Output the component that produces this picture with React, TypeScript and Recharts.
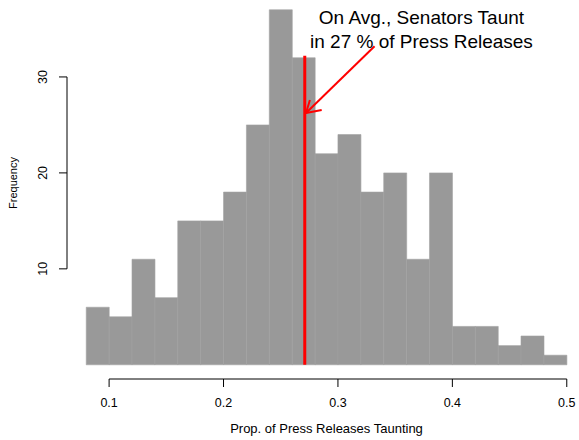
import React from 'react';
import {
  ComposedChart,
  Bar,
  XAxis,
  YAxis,
  ReferenceLine,
  ReferenceDot,
  Label,
} from 'recharts';

// histogram bins (width 0.02) and their counts
const binStarts = [
  0.08, 0.1, 0.12, 0.14, 0.16, 0.18, 0.2, 0.22, 0.24, 0.26, 0.28,
  0.3, 0.32, 0.34, 0.36, 0.38, 0.4, 0.42, 0.44, 0.46, 0.48,
];
const counts = [6, 5, 11, 7, 15, 15, 18, 25, 37, 32, 22, 24, 18, 20, 11, 20, 4, 4, 2, 3, 1];
const binWidth = 0.02;

const xTicks = [0.1, 0.2, 0.3, 0.4, 0.5];
const yTicks = [10, 20, 30];

const meanProp = 0.271;
const meanLineTop = 32.2;

// arrow from the note to the mean line
const arrowStart = { x: 0.332, y: 33.2 };
const arrowTip = { x: 0.2721, y: 26.25 };
const arrowArms = [
  { x: 0.2858, y: 26.56 },
  { x: 0.2755, y: 27.6 },
];

const noteLines = [
  { text: 'On Avg., Senators Taunt', x: 0.373, y: 36.25 },
  { text: 'in 27 % of Press Releases', x: 0.373, y: 33.75 },
];

const data = binStarts.map((start, i) => ({
  mid: start + binWidth / 2,
  count: counts[i],
}));

const FONT = '"Liberation Sans", Arial, Helvetica, sans-serif';

const XTick = (props: any) => {
  const { x, y, payload } = props;
  return (
    <text
      x={x}
      y={y + 14}
      textAnchor="middle"
      dominantBaseline="central"
      fontSize={12.5}
      fontFamily={FONT}
      fill="#000"
    >
      {payload.value}
    </text>
  );
};

const YTick = (props: any) => {
  const { x, y, payload } = props;
  const tx = x - 14;
  return (
    <text
      x={tx}
      y={y}
      transform={`rotate(-90, ${tx}, ${y})`}
      textAnchor="middle"
      dominantBaseline="central"
      fontSize={12.5}
      fontFamily={FONT}
      fill="#000"
    >
      {payload.value}
    </text>
  );
};

export default function App() {
  return (
    <div
      style={{
        position: 'absolute',
        left: 0,
        top: 0,
        width: 579,
        height: 440,
        overflow: 'hidden',
        background: '#fff',
      }}
    >
      <ComposedChart
        width={599}
        height={440}
        data={data}
        margin={{ top: 0, right: 13, bottom: 0, left: 0 }}
        barCategoryGap={0}
        barGap={0}
      >
        <XAxis
          dataKey="mid"
          type="number"
          domain={[0.0632, 0.5168]}
          allowDataOverflow
          ticks={xTicks}
          tickSize={8}
          tickLine={{ stroke: '#000' }}
          axisLine={false}
          tick={<XTick />}
          height={61}
          interval={0}
        >
          <Label
            content={(p: any) => {
              const vb = p.viewBox;
              return (
                <text
                  x={vb.x + vb.width / 2}
                  y={428}
                  textAnchor="middle"
                  dominantBaseline="central"
                  fontSize={13}
                  fontFamily={FONT}
                  fill="#000"
                >
                  Prop. of Press Releases Taunting
                </text>
              );
            }}
          />
        </XAxis>
        <YAxis
          type="number"
          domain={[-1.48, 38.02]}
          allowDataOverflow
          ticks={yTicks}
          tickSize={8}
          tickLine={{ stroke: '#000' }}
          axisLine={false}
          tick={<YTick />}
          width={67}
          interval={0}
        >
          <Label
            content={() => (
              <text
                x={12.5}
                y={183}
                transform="rotate(-90, 12.5, 183)"
                textAnchor="middle"
                dominantBaseline="central"
                fontSize={11}
                fontFamily={FONT}
                fill="#000"
              >
                Frequency
              </text>
            )}
          />
        </YAxis>

        <Bar
          dataKey="count"
          fill="#999999"
          stroke="#a2a2a2"
          strokeWidth={0.6}
          isAnimationActive={false}
        />

        {/* axis lines, drawn only between first and last tick like R */}
        <ReferenceLine
          segment={[
            { x: xTicks[0], y: -1.48 },
            { x: xTicks[xTicks.length - 1], y: -1.48 },
          ]}
          stroke="#000"
          strokeWidth={1}
        />
        <ReferenceLine
          segment={[
            { x: 0.0632, y: yTicks[0] },
            { x: 0.0632, y: yTicks[yTicks.length - 1] },
          ]}
          stroke="#000"
          strokeWidth={1}
        />

        {/* mean line */}
        <ReferenceLine
          segment={[
            { x: meanProp, y: 0 },
            { x: meanProp, y: meanLineTop },
          ]}
          stroke="#ff0000"
          strokeWidth={3}
        />

        {/* arrow */}
        <ReferenceLine segment={[arrowStart, arrowTip]} stroke="#ff0000" strokeWidth={2} />
        {arrowArms.map((arm, i) => (
          <ReferenceLine key={i} segment={[arrowTip, arm]} stroke="#ff0000" strokeWidth={2} />
        ))}

        {noteLines.map((n) => (
          <ReferenceDot
            key={n.text}
            x={n.x}
            y={n.y}
            r={0}
            fill="none"
            stroke="none"
            label={{
              value: n.text,
              position: 'center',
              fontSize: 19,
              fontFamily: FONT,
              fill: '#000',
            }}
          />
        ))}
      </ComposedChart>
    </div>
  );
}
